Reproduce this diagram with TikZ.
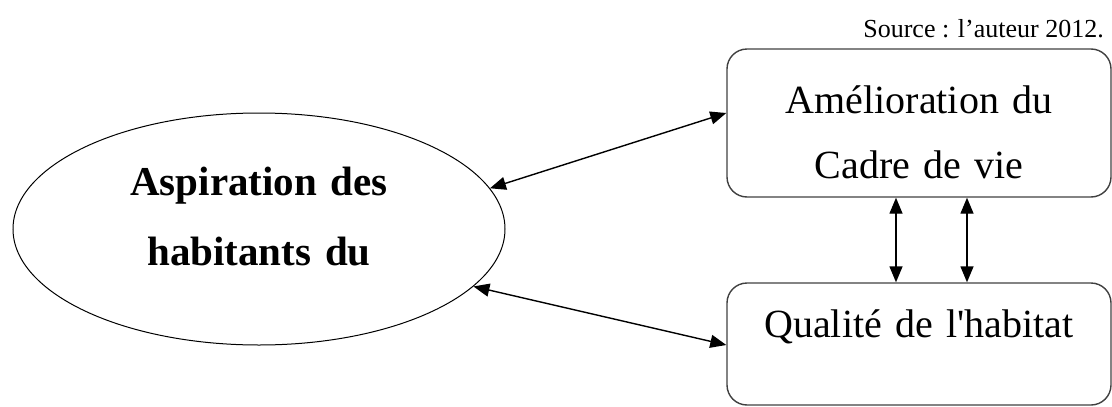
\documentclass[tikz,border=0pt]{standalone}
\usepackage{fontspec}
\setmainfont{Liberation Serif}
\usetikzlibrary{shapes.geometric,arrows.meta}

\begin{document}
\begin{tikzpicture}[
        x=1pt, y=-1pt,
        box/.style={draw=black!75, line width=1.4pt, rounded corners=20pt, inner sep=0pt,
          minimum width=384pt, text width=340pt, align=center,
          font=\fontsize{40}{65}\selectfont},
        link/.style={{Triangle[length=16pt,width=13pt]}-{Triangle[length=16pt,width=13pt]}, line width=1.4pt},
      ]
      \useasboundingbox (0,0) rectangle (1112,407);

      \node[draw, ellipse, line width=1pt, inner sep=0pt, minimum width=492pt, minimum height=232pt,
        text width=300pt, align=center, text height=27pt, text depth=95pt,
        font=\fontsize{41}{70}\selectfont\bfseries] (asp) at (259,229) {Aspiration des\\habitants du};

      \node[box, minimum height=148pt, text height=30pt, text depth=50pt] (amel) at (919,123) {Amélioration du\\Cadre de vie};
      \node[box, minimum height=122pt, text height=27pt, text depth=41pt] (qual) at (919,344) {Qualité de l\textquotesingle habitat};

      \node[anchor=base east, inner sep=0pt, font=\fontsize{26}{30}\selectfont] (src) at (1104,37) {Source : l’auteur 2012.};

      \draw[link] (asp.10.6) -- ([yshift=10pt]amel.west);
      \draw[link] (asp.-15.8) -- ([yshift=-1pt]qual.west);
      \draw[link] ([xshift=-23pt]amel.south) -- ([xshift=-23pt]qual.north);
      \draw[link] ([xshift=48pt]amel.south) -- ([xshift=48pt]qual.north);
    \end{tikzpicture}
\end{document}
